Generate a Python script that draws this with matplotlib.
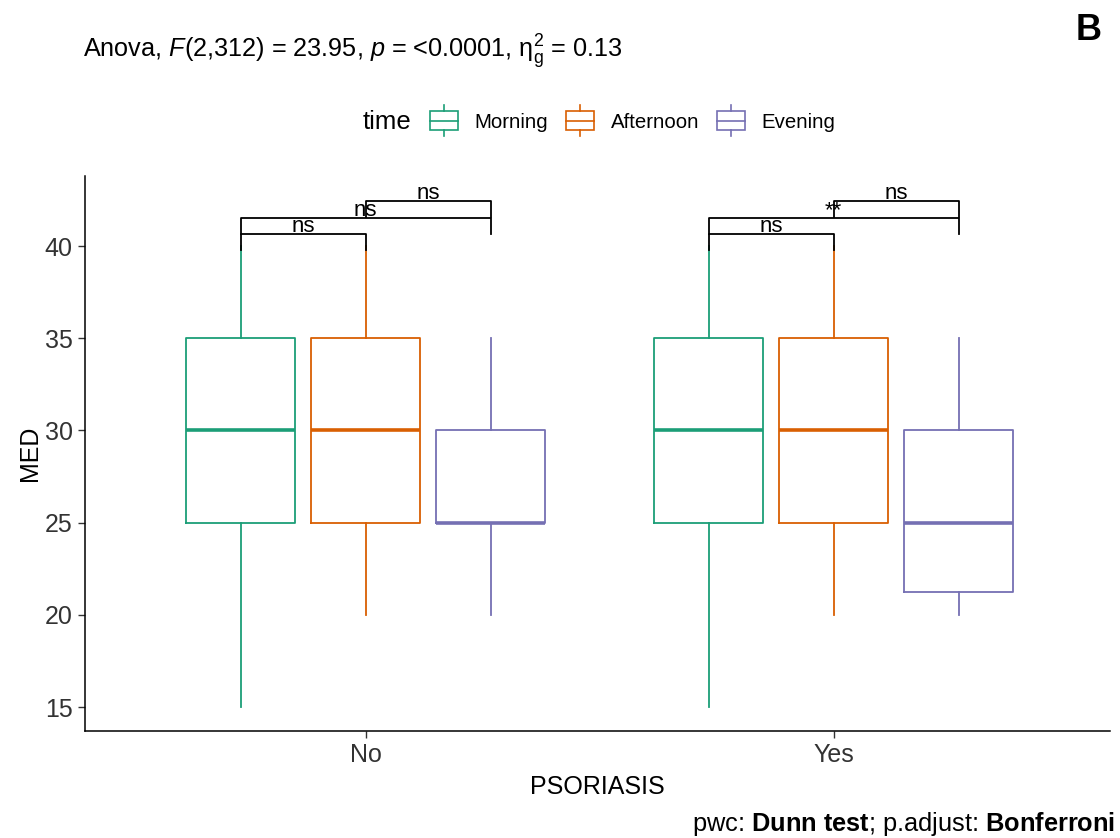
import matplotlib
matplotlib.use('Agg')
import matplotlib.pyplot as plt
from matplotlib.patches import Rectangle
from matplotlib.lines import Line2D
from matplotlib.legend_handler import HandlerBase

plt.rcParams['font.family'] = ['Liberation Sans', 'DejaVu Sans']
plt.rcParams['mathtext.fontset'] = 'custom'
plt.rcParams['mathtext.rm'] = 'Liberation Sans'
plt.rcParams['mathtext.it'] = 'Liberation Sans:italic'
plt.rcParams['mathtext.bf'] = 'Liberation Sans:bold'

# data
groups = ['No', 'Yes']
times = ['Morning', 'Afternoon', 'Evening']
colors = ['#1B9E77', '#D95F02', '#7570B3']

med = [[30, 30, 25], [30, 30, 25]]
q1 = [[25, 25, 25], [25, 25, 21.25]]
q3 = [[35, 35, 30], [35, 35, 30]]
wlo = [[15, 20, 20], [15, 20, 20]]
whi = [[40, 40, 35], [40, 40, 35]]

# pairwise comparisons: group, time a, time b, bracket height, label
pw_group = [0, 0, 0, 1, 1, 1]
pw_a = [0, 0, 1, 0, 0, 1]
pw_b = [1, 2, 2, 1, 2, 2]
pw_y = [40.65, 41.5, 42.45, 40.65, 41.5, 42.45]
pw_label = ['ns', 'ns', 'ns', 'ns', '**', 'ns']

dodge = 0.267
box_w = 0.233
tip = 0.85


class BoxKey(HandlerBase):
    def create_artists(self, legend, orig_handle, xdescent, ydescent,
                       width, height, fontsize, trans):
        c = orig_handle.get_color()
        x0 = -xdescent
        cy = -ydescent + height / 2
        h = 6.8
        r = Rectangle((x0, cy - h), width, 2 * h, fill=False, edgecolor=c,
                      lw=1.2, transform=trans)
        mid = Line2D([x0, x0 + width], [cy, cy], color=c, lw=1.2, transform=trans)
        up = Line2D([x0 + width / 2] * 2, [cy + h, cy + h + 4.5], color=c, lw=1.2,
                    transform=trans)
        dn = Line2D([x0 + width / 2] * 2, [cy - h, cy - h - 4.5], color=c, lw=1.2,
                    transform=trans)
        return [r, mid, up, dn]


fig = plt.figure(figsize=(11.2, 8.38), dpi=100)
ax = fig.add_axes([0.0759, 0.1277, 0.9151, 0.6623])

for gi, g in enumerate(groups):
    for ti, t in enumerate(times):
        pos = gi + 1 + (ti - 1) * dodge
        stats = [dict(med=med[gi][ti], q1=q1[gi][ti], q3=q3[gi][ti],
                      whislo=wlo[gi][ti], whishi=whi[gi][ti], fliers=[])]
        ax.bxp(stats, positions=[pos], widths=box_w, showcaps=False,
               showfliers=False, manage_ticks=False,
               boxprops=dict(color=colors[ti], lw=1.3),
               whiskerprops=dict(color=colors[ti], lw=1.3),
               medianprops=dict(color=colors[ti], lw=2.6, solid_capstyle='butt'))

for g, a, b, y, lab in zip(pw_group, pw_a, pw_b, pw_y, pw_label):
    xa = g + 1 + (a - 1) * dodge
    xb = g + 1 + (b - 1) * dodge
    ax.plot([xa, xa, xb, xb], [y - tip, y, y, y - tip], color='black', lw=1.3)
    ax.text((xa + xb) / 2, y + 0.12, lab, ha='center', va='baseline', fontsize=16)

ax.set_xlim(0.4, 2.59)
ax.set_ylim(13.7, 43.8)
ax.set_xticks([1, 2])
ax.set_xticklabels(groups)
ax.set_yticks([15, 20, 25, 30, 35, 40])
ax.tick_params(labelsize=18, length=5, width=1, colors='#333333', labelcolor='#333333')
ax.tick_params(axis='y', pad=4)
for s in ['top', 'right']:
    ax.spines[s].set_visible(False)
for s in ['left', 'bottom']:
    ax.spines[s].set_linewidth(1.1)
ax.set_xlabel('PSORIASIS', fontsize=18, labelpad=6)
ax.set_ylabel('MED', fontsize=18, labelpad=2)

fig.text(0.074, 0.931,
         r'Anova, $F$(2,312) = 23.95, $p$ = <0.0001, $\mathrm{\eta}_\mathrm{g}^2$ = 0.13',
         fontsize=18.2, ha='left', va='baseline')
fig.text(0.984, 0.985, 'B', fontsize=26, fontweight='bold', ha='right', va='top')
fig.text(0.9955, 0.008, r'pwc: $\bf{Dunn\ test}$; p.adjust: $\bf{Bonferroni}$',
         fontsize=18.3, ha='right', va='baseline')

fig.text(0.324, 0.854, 'time', fontsize=18.5, ha='left', va='center')
handles = [Line2D([], [], color=c) for c in colors]
fig.legend(handles, times, handler_map={Line2D: BoxKey()}, ncol=3,
           loc='center left', bbox_to_anchor=(0.384, 0.854), frameon=False,
           fontsize=14.7, handlelength=1.36, handletextpad=0.82,
           columnspacing=0.88, borderpad=0, borderaxespad=0)

fig.savefig('out.png', dpi=100)
